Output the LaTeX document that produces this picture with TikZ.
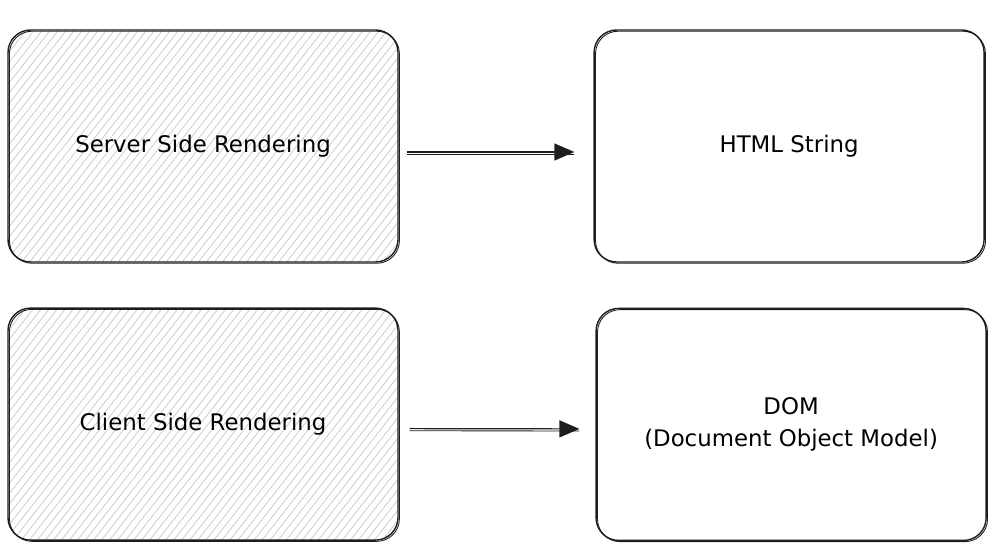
\documentclass[tikz,border=0pt]{standalone}
\usepackage{fontspec}
\setmainfont{DejaVu Sans}
\usepackage{xcolor}
\usepackage{tikz}
\usetikzlibrary{arrows.meta,positioning,patterns.meta}
\definecolor{inkblack}{HTML}{1E1E1E}
\definecolor{hatchgray}{HTML}{C9CDD2}
\tikzset{
  plainbox/.style={draw=inkblack,line width=0.8pt,rounded corners=4.5mm,fill=white,align=center,font=\fontsize{13}{18.5}\selectfont,minimum width=7.8cm,minimum height=4.64cm,postaction={draw=inkblack,line width=0.5pt,transform canvas={shift={(0.8pt,-0.7pt)}}}},
  hatchbox/.style={plainbox,pattern={Lines[angle=52,distance=3.6pt,line width=0.45pt]},pattern color=hatchgray},
  arrow/.style={-{Triangle[length=4mm,width=3.4mm]},line width=0.7pt,draw=inkblack,postaction={draw=inkblack,-,line width=0.5pt,transform canvas={yshift=-1.2pt}}}
}
\begin{document}
\begin{tikzpicture}
  \useasboundingbox (0,0) rectangle (20.1,-11.14);
  \node[hatchbox] (ssr) at (4.06,-2.92) {Server Side Rendering};
  \node[plainbox,right=3.9cm of ssr] (html) {HTML String};
  \node[hatchbox,below=0.9cm of ssr] (csr) {Client Side Rendering};
  \node[plainbox,below=0.9cm of html,xshift=0.4mm] (dom) {DOM\\(Document Object Model)};
  \draw[arrow] ([xshift=1.8mm,yshift=-1.2mm]ssr.east) -- ([xshift=-3.8mm,yshift=-1.2mm]html.west);
  \draw[arrow] ([xshift=2.2mm,yshift=-0.9mm]csr.east) -- ([xshift=-3.2mm,yshift=-0.9mm]dom.west);
\end{tikzpicture}
\end{document}
